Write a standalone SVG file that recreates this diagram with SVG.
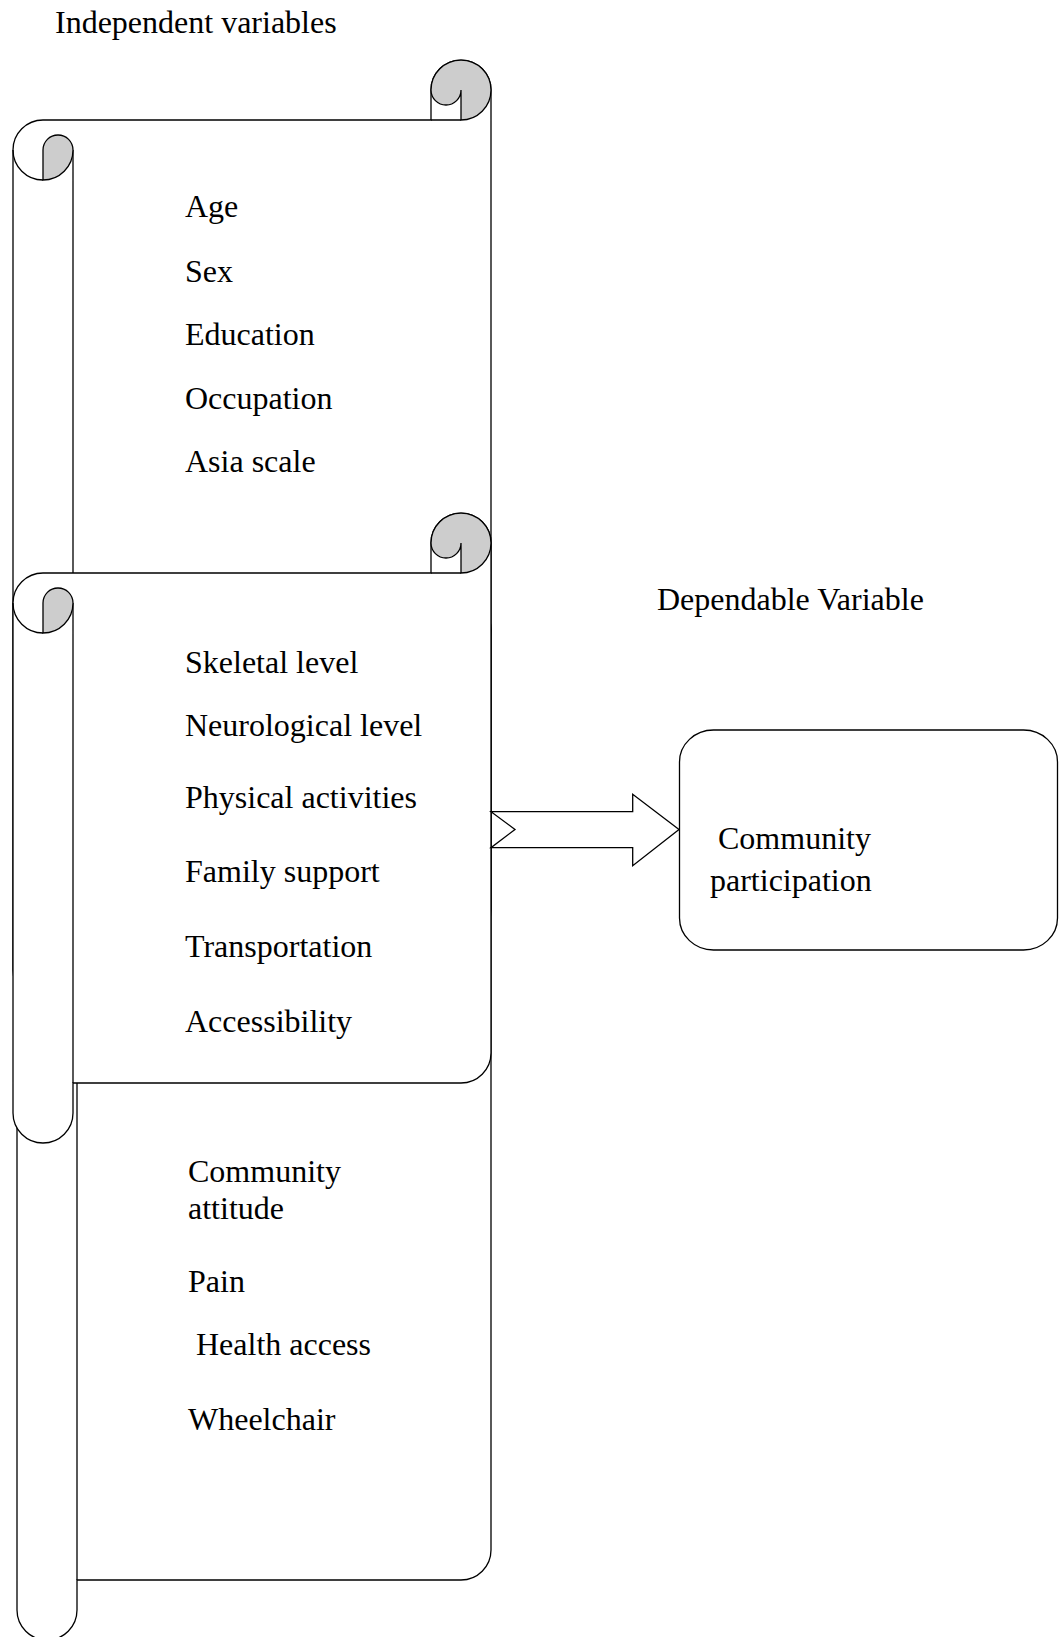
<svg xmlns="http://www.w3.org/2000/svg" width="1059" height="1637" viewBox="0 0 1059 1637">
<style>
.outline{fill:#fff;stroke:#000;stroke-width:1.3}
.shade{fill:#cdcdcd;stroke:#000;stroke-width:1.3}
.line{fill:none;stroke:#000;stroke-width:1.3}
text{font-family:"Liberation Serif","Times New Roman",serif;font-size:32px;fill:#000}
</style>
<rect width="1059" height="1637" fill="#fff"/>
<text id="title-independent" x="55" y="33">Independent variables</text>
<g id="scroll1">
<path class="outline" d="M43,120 H431 V90 A30,30 0 0 1 491,90 V910 A30,30 0 0 1 461,940 H73 V970 A30,30 0 0 1 13,970 V150 A30,30 0 0 1 43,120 Z"/>
<path class="line" d="M431,120 H461 M73,150 V940 M13,150 A30,30 0 0 0 43,180"/>
<path class="shade" d="M431,90 A30,30 0 0 1 491,90 A30,30 0 0 1 461,120 V90 A15,15 0 0 1 431,90 Z"/>
<path class="shade" d="M43,150 A15,15 0 0 1 73,150 A30,30 0 0 1 43,180 Z"/>
<text x="185" y="217">Age</text>
<text x="185" y="281.5">Sex</text>
<text x="185" y="345">Education</text>
<text x="185" y="408.5">Occupation</text>
<text x="185" y="472">Asia scale</text>
</g>
<g id="scroll3">
<path class="outline" d="M47,660 H431 V630 A30,30 0 0 1 491,630 V1550 A30,30 0 0 1 461,1580 H77 V1610 A30,30 0 0 1 17,1610 V690 A30,30 0 0 1 47,660 Z"/>
<path class="line" d="M431,660 H461 M77,690 V1580 M17,690 A30,30 0 0 0 47,720"/>
<path class="shade" d="M431,630 A30,30 0 0 1 491,630 A30,30 0 0 1 461,660 V630 A15,15 0 0 1 431,630 Z"/>
<path class="shade" d="M47,690 A15,15 0 0 1 77,690 A30,30 0 0 1 47,720 Z"/>
<text x="188" y="1181.5">Community</text>
<text x="188" y="1218.5">attitude</text>
<text x="188" y="1292">Pain</text>
<text x="196" y="1355">Health access</text>
<text x="188" y="1430">Wheelchair</text>
</g>
<g id="scroll2">
<path class="outline" d="M43,573 H431 V543 A30,30 0 0 1 491,543 V1053 A30,30 0 0 1 461,1083 H73 V1113 A30,30 0 0 1 13,1113 V603 A30,30 0 0 1 43,573 Z"/>
<path class="line" d="M431,573 H461 M73,603 V1083 M13,603 A30,30 0 0 0 43,633"/>
<path class="shade" d="M431,543 A30,30 0 0 1 491,543 A30,30 0 0 1 461,573 V543 A15,15 0 0 1 431,543 Z"/>
<path class="shade" d="M43,603 A15,15 0 0 1 73,603 A30,30 0 0 1 43,633 Z"/>
<text x="185" y="672.5">Skeletal level</text>
<text x="185" y="736">Neurological level</text>
<text x="185" y="808">Physical activities</text>
<text x="185" y="882">Family support</text>
<text x="185" y="957">Transportation</text>
<text x="185" y="1031.5">Accessibility</text>
</g>
<text id="title-dependent" x="657" y="610">Dependable Variable</text>
<g id="connectors">
<path class="outline" d="M491,811.7 H632.7 V794.3 L679,829.5 L632.7,865.7 V847.7 H491 L515,829.5 Z"/>
</g>
<g id="outcome">
<rect class="outline" x="679.5" y="730" width="378" height="220" rx="34" ry="32"/>
<text x="718" y="849">Community</text>
<text x="710" y="891">participation</text>
</g>
</svg>
